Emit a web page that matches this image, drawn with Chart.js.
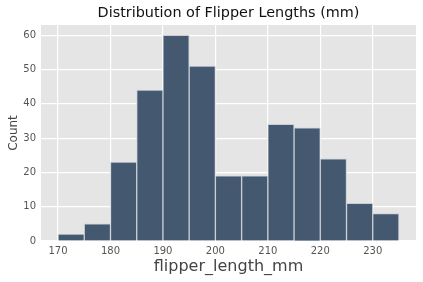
<!DOCTYPE html>
<html>
<head>
<meta charset="utf-8">
<script src="https://cdn.jsdelivr.net/npm/chart.js@4"></script>
<style>
  html, body { margin: 0; padding: 0; background: #fff; }
  #wrap { width: 423px; height: 282px; }
</style>
</head>
<body>
<div id="wrap"><canvas id="hist" width="423" height="282"></canvas></div>
<script>
// bin starts (mm), width 5
const binStarts = [170, 175, 180, 185, 190, 195, 200, 205, 210, 215, 220, 225, 230];
const binWidth = 5;
const counts = [2, 5, 23, 44, 60, 51, 19, 19, 34, 33, 24, 11, 8];
const xTicks = [170, 180, 190, 200, 210, 220, 230];
const yTicks = [0, 10, 20, 30, 40, 50, 60];
const titleText = "Distribution of Flipper Lengths (mm)";

const points = binStarts.map((s, i) => ({ x: s + binWidth / 2, y: counts[i] }));

const tickFont = { family: "DejaVu Sans", size: 10 };

new Chart(document.getElementById("hist"), {
  type: "bar",
  data: {
    datasets: [{
      data: points,
      backgroundColor: "#44586f",
      borderColor: "#c9ced6",
      borderWidth: 1,
      barPercentage: 1,
      categoryPercentage: 1
    }]
  },
  plugins: [{
    id: "bg",
    beforeDraw(chart) {
      const a = chart.chartArea, ctx = chart.ctx;
      ctx.save();
      ctx.fillStyle = "#e5e5e5";
      ctx.fillRect(a.left, a.top, a.right - a.left, a.bottom - a.top);
      ctx.restore();
    },
    // title centred over the plot area, like matplotlib
    afterDraw(chart) {
      const a = chart.chartArea, ctx = chart.ctx;
      ctx.save();
      ctx.fillStyle = "#111";
      ctx.font = "14.4px 'DejaVu Sans'";
      ctx.textAlign = "center";
      ctx.textBaseline = "middle";
      ctx.fillText(titleText, (a.left + a.right) / 2, 13);
      ctx.restore();
    }
  }],
  options: {
    responsive: false,
    animation: false,
    layout: { padding: { left: 0, right: 7, top: 25, bottom: 0 } },
    plugins: {
      legend: { display: false },
      tooltip: { enabled: false },
      title: { display: false }
    },
    scales: {
      x: {
        type: "linear",
        offset: false,
        min: 166.75,
        max: 238.25,
        afterBuildTicks(scale) { scale.ticks = xTicks.map(v => ({ value: v })); },
        afterFit(scale) { scale.height = 41; },
        grid: { color: "#ffffff", lineWidth: 1.2, drawTicks: false, offset: false },
        border: { display: false },
        ticks: { color: "#555", font: tickFont, padding: 4, maxRotation: 0 },
        title: {
          display: true,
          text: "flipper_length_mm",
          color: "#444",
          font: { family: "DejaVu Sans", size: 16 },
          padding: { top: 2, bottom: 6 }
        }
      },
      y: {
        min: 0,
        max: 63,
        afterBuildTicks(scale) { scale.ticks = yTicks.map(v => ({ value: v })); },
        afterFit(scale) { scale.width = 41; },
        grid: { color: "#ffffff", lineWidth: 1.2, drawTicks: false },
        border: { display: false },
        ticks: { color: "#555", font: tickFont, padding: 5 },
        title: {
          display: true,
          text: "Count",
          color: "#444",
          font: { family: "DejaVu Sans", size: 12 },
          padding: { top: 7, bottom: 0 }
        }
      }
    }
  }
});
</script>
</body>
</html>
